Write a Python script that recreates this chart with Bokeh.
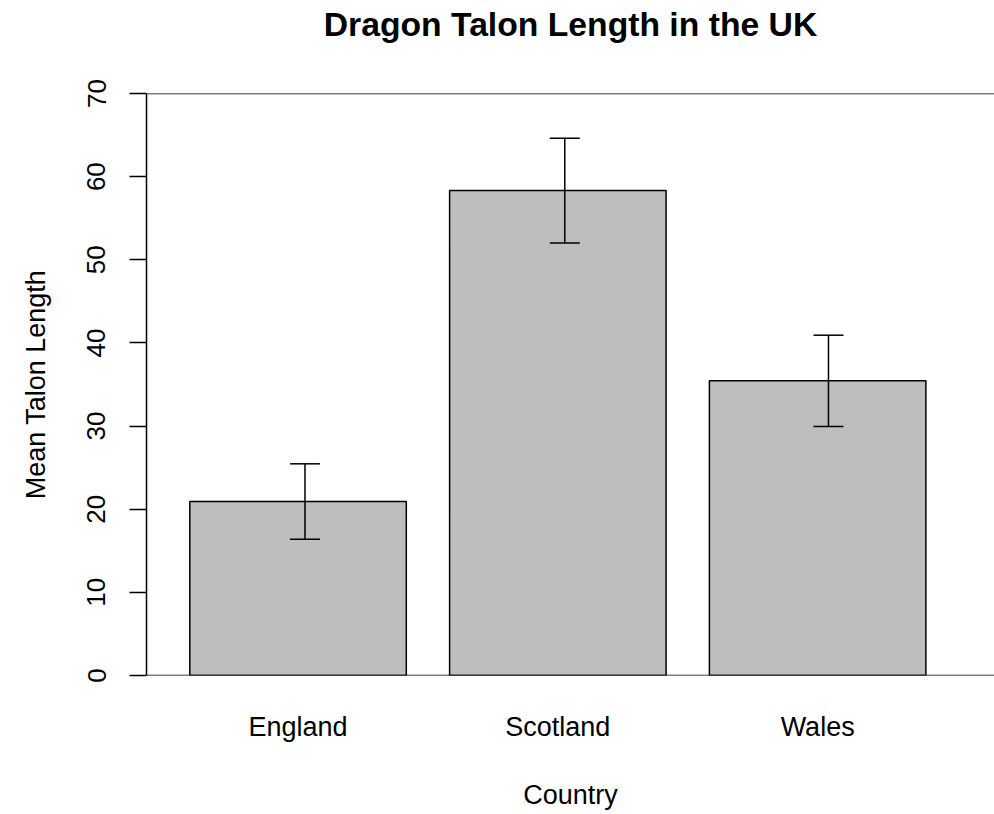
from bokeh.plotting import figure
from bokeh.models import ColumnDataSource, FixedTicker, Span, Title
from bokeh.embed import file_html
from bokeh.resources import INLINE

# Mean talon length per country with standard errors
countries = ["England", "Scotland", "Wales"]
mean_length = [20.93, 58.33, 35.44]
std_err = [4.53, 6.30, 5.49]
y_ticks = [0, 10, 20, 30, 40, 50, 60, 70]

# barplot-style layout: bars of width 1 separated by 0.2
bar_width = 1.0
bar_space = 0.2
centers = [bar_space + bar_width / 2 + i * (bar_width + bar_space) for i in range(len(countries))]
# the error bars sit slightly right of each bar centre
err_shift = [0.032, 0.032, 0.05]
err_x = [c + s for c, s in zip(centers, err_shift)]

W, H = 994, 814
LEFT, TOP, BOTTOM = 146, 93, 139
frame_w = W - LEFT
px_per_unit = 216.5
x_max = frame_w / px_per_unit

FONT = "Liberation Sans"
INK = "#000000"
LW = 1.5

p = figure(width=W, height=H, output_backend="svg", toolbar_location=None,
           x_range=(0, x_max), y_range=(0, 70),
           min_border_left=LEFT, min_border_right=0,
           min_border_top=TOP, min_border_bottom=BOTTOM)
p.background_fill_color = "white"
p.border_fill_color = "white"
p.outline_line_color = None
p.xgrid.visible = False
p.ygrid.visible = False

p.title.text = "Dragon Talon Length in the UK"
p.title.align = "center"
p.title.vertical_align = "bottom"
p.title.text_font = FONT
p.title.text_font_size = "33.7px"
p.title.text_font_style = "bold"
p.title.text_color = INK
p.title.standoff = 0

# blank gap between the title and the plotting area
p.add_layout(Title(text=" ", text_font_size="10px", standoff=38), "above")

bars = ColumnDataSource(dict(x=centers, top=mean_length, name=countries))
p.vbar(x="x", top="top", bottom=0, width=bar_width, source=bars,
       fill_color="#BEBEBE", line_color=INK, line_width=LW)

# error bars: stem plus caps
cap_half = 15 / px_per_unit
lo = [m - s for m, s in zip(mean_length, std_err)]
hi = [m + s for m, s in zip(mean_length, std_err)]
p.segment(x0=err_x, y0=lo, x1=err_x, y1=hi, line_color=INK, line_width=LW)
p.segment(x0=[x - cap_half for x in err_x], y0=hi, x1=[x + cap_half for x in err_x], y1=hi,
          line_color=INK, line_width=LW)
p.segment(x0=[x - cap_half for x in err_x], y0=lo, x1=[x + cap_half for x in err_x], y1=lo,
          line_color=INK, line_width=LW)

# horizontal rules at the bottom and top of the value range
for loc in (y_ticks[0], y_ticks[-1]):
    p.add_layout(Span(location=loc, dimension="width", line_color=INK, line_width=LW))

# y axis
ya = p.yaxis[0]
ya.ticker = FixedTicker(ticks=y_ticks)
ya.minor_tick_line_color = None
ya.major_tick_in = 0
ya.major_tick_out = 17
ya.major_tick_line_color = INK
ya.major_tick_line_width = LW
ya.axis_line_color = INK
ya.axis_line_width = LW
ya.major_label_orientation = "vertical"
ya.major_label_text_font = FONT
ya.major_label_text_font_size = "26px"
ya.major_label_text_color = INK
ya.major_label_standoff = 24
ya.axis_label = "Mean Talon Length"
ya.axis_label_text_font = FONT
ya.axis_label_text_font_size = "27px"
ya.axis_label_text_font_style = "normal"
ya.axis_label_text_color = INK
ya.axis_label_standoff = 34

# x axis: category names only
xa = p.xaxis[0]
xa.ticker = FixedTicker(ticks=centers)
xa.major_label_overrides = {c: n for c, n in zip(centers, countries)}
xa.minor_tick_line_color = None
xa.major_tick_line_color = None
xa.major_tick_in = 0
xa.major_tick_out = 0
xa.axis_line_color = None
xa.major_label_text_font = FONT
xa.major_label_text_font_size = "27px"
xa.major_label_text_color = INK
xa.major_label_standoff = 36
xa.axis_label = "Country"
xa.axis_label_text_font = FONT
xa.axis_label_text_font_size = "27px"
xa.axis_label_text_font_style = "normal"
xa.axis_label_text_color = INK
xa.axis_label_standoff = 35

open("out.html", "w").write(file_html(p, INLINE))
